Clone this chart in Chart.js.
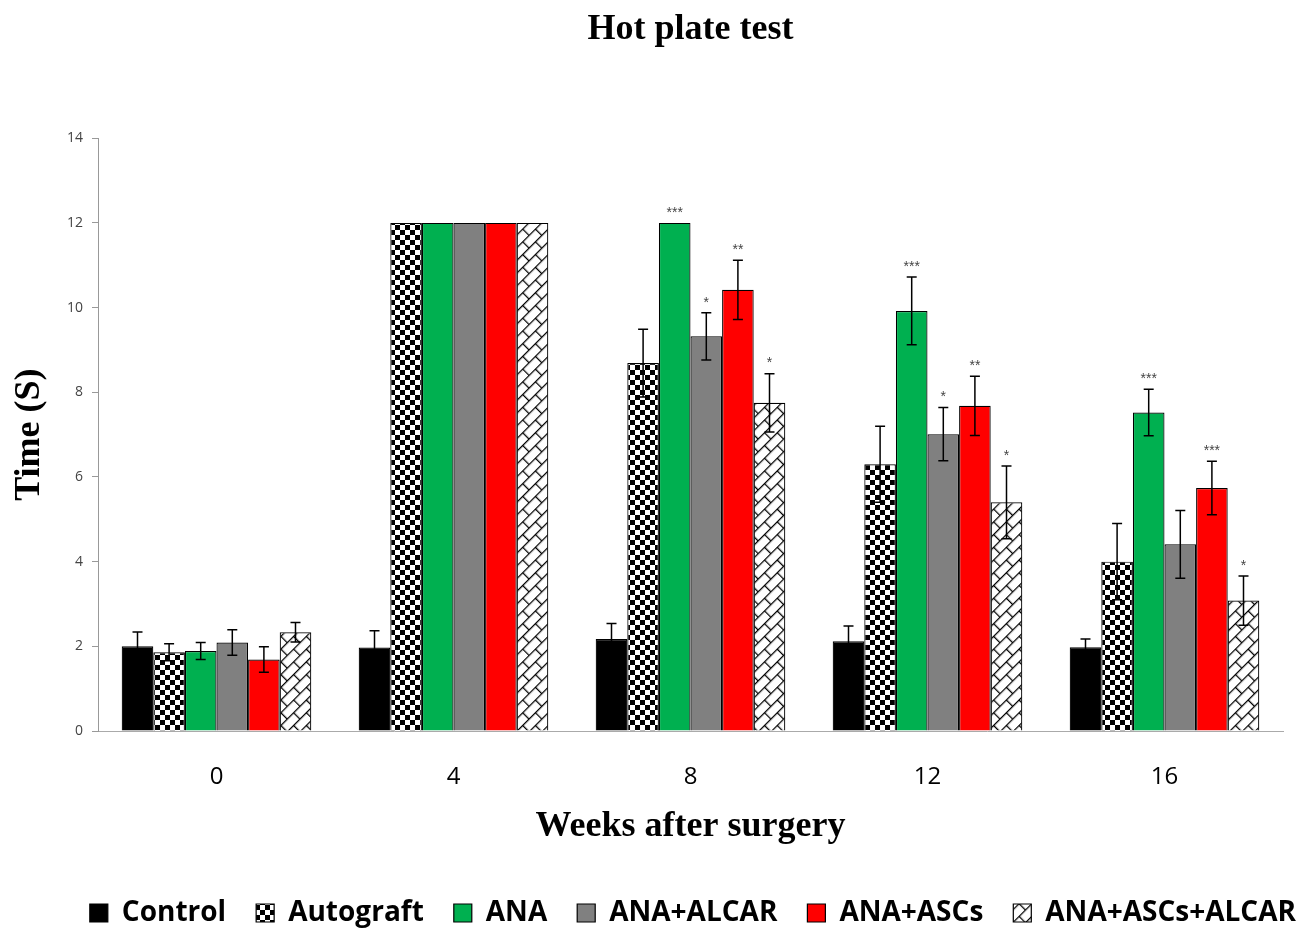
<!DOCTYPE html>
<html>
<head>
<meta charset="utf-8">
<title>Hot plate test</title>
<script src="https://cdn.jsdelivr.net/npm/chart.js@4.4.1/dist/chart.umd.min.js"></script>
<style>
  html, body { margin: 0; padding: 0; background: #fff; overflow: hidden; }
  canvas { display: block; }
</style>
</head>
<body>
<canvas id="myChart" width="1306" height="929"></canvas>
<script>
// weeks after surgery
var weeks = ['0', '4', '8', '12', '16'];

// mean time (s) per group
var control      = [2.0, 1.97, 2.17, 2.12, 1.98];
var autograft    = [1.86, 12, 8.69, 6.30, 4.0];
var ana          = [1.89, 12, 12, 9.92, 7.52];
var anaAlcar     = [2.09, 12, 9.32, 7.01, 4.41];
var anaAscs      = [1.69, 12, 10.42, 7.68, 5.74];
var anaAscsAlcar = [2.33, 12, 7.75, 5.40, 3.08];

// error bars (+/-)
var controlErr      = [0.34, 0.4, 0.37, 0.36, 0.19];
var autograftErr    = [0.2, 0, 0.8, 0.9, 0.9];
var anaErr          = [0.2, 0, 0, 0.8, 0.55];
var anaAlcarErr     = [0.3, 0, 0.56, 0.63, 0.8];
var anaAscsErr      = [0.3, 0, 0.7, 0.7, 0.63];
var anaAscsAlcarErr = [0.23, 0, 0.69, 0.86, 0.58];

// significance marks
var controlSig      = ['', '', '', '', ''];
var autograftSig    = ['', '', '', '', ''];
var anaSig          = ['', '', '***', '***', '***'];
var anaAlcarSig     = ['', '', '*', '*', ''];
var anaAscsSig      = ['', '', '**', '**', '***'];
var anaAscsAlcarSig = ['', '', '*', '*', '*'];

var yTicks = [0, 2, 4, 6, 8, 10, 12, 14];

function checkerPattern() {
  var c = document.createElement('canvas');
  c.width = 10; c.height = 10;
  var g = c.getContext('2d');
  g.fillStyle = '#fff';
  g.fillRect(0, 0, 10, 10);
  g.fillStyle = '#000';
  g.fillRect(0, 0, 5, 5);
  g.fillRect(5, 5, 5, 5);
  return g.createPattern(c, 'repeat');
}

function brickPattern() {
  var s = 18, h = 9;
  var c = document.createElement('canvas');
  c.width = s; c.height = s;
  var g = c.getContext('2d');
  g.fillStyle = '#fff';
  g.fillRect(0, 0, s, s);
  g.strokeStyle = '#000';
  g.lineWidth = 1.3;
  g.beginPath();
  g.moveTo(0, 0.6); g.lineTo(s, 0.6);
  g.moveTo(0, h + 0.6); g.lineTo(s, h + 0.6);
  g.moveTo(0.6, 0); g.lineTo(0.6, h);
  g.moveTo(h + 0.6, h); g.lineTo(h + 0.6, s);
  g.stroke();
  var p = g.createPattern(c, 'repeat');
  p.setTransform(new DOMMatrix().rotateSelf(-45));
  return p;
}

var errs = [controlErr, autograftErr, anaErr, anaAlcarErr, anaAscsErr, anaAscsAlcarErr];
var sigs = [controlSig, autograftSig, anaSig, anaAlcarSig, anaAscsSig, anaAscsAlcarSig];

var errorBars = {
  id: 'errorBars',
  afterDatasetsDraw: function(chart) {
    var ctx = chart.ctx;
    var y = chart.scales.y;
    ctx.save();
    chart.data.datasets.forEach(function(ds, i) {
      var meta = chart.getDatasetMeta(i);
      meta.data.forEach(function(bar, j) {
        var v = ds.data[j];
        var e = errs[i][j];
        var top = y.getPixelForValue(v + e);
        if (e > 0) {
          var bot = y.getPixelForValue(v - e);
          ctx.strokeStyle = '#000';
          ctx.lineWidth = 1.5;
          ctx.beginPath();
          ctx.moveTo(bar.x, top); ctx.lineTo(bar.x, bot);
          ctx.moveTo(bar.x - 5, top); ctx.lineTo(bar.x + 5, top);
          ctx.moveTo(bar.x - 5, bot); ctx.lineTo(bar.x + 5, bot);
          ctx.stroke();
        }
        if (sigs[i][j]) {
          ctx.fillStyle = '#444';
          ctx.font = '14px "Liberation Sans"';
          ctx.textAlign = 'center';
          ctx.textBaseline = 'bottom';
          ctx.fillText(sigs[i][j], bar.x, top - 3);
        }
      });
    });
    ctx.restore();
  }
};

var ctx = document.getElementById('myChart').getContext('2d');
var myChart = new Chart(ctx, {
  type: 'bar',
  data: {
    labels: weeks,
    datasets: [
      { label: 'Control', data: control, backgroundColor: '#000000' },
      { label: 'Autograft', data: autograft, backgroundColor: checkerPattern() },
      { label: 'ANA', data: ana, backgroundColor: '#00b050' },
      { label: 'ANA+ALCAR', data: anaAlcar, backgroundColor: '#808080' },
      { label: 'ANA+ASCs', data: anaAscs, backgroundColor: '#ff0000' },
      { label: 'ANA+ASCs+ALCAR', data: anaAscsAlcar, backgroundColor: brickPattern() }
    ]
  },
  options: {
    responsive: false,
    animation: false,
    datasets: {
      bar: {
        borderColor: '#000',
        borderWidth: 1.2,
        categoryPercentage: 0.8,
        barPercentage: 1.0
      }
    },
    layout: {
      // legend runs past the plot on the right, so let it use the margin
      padding: { left: 0, right: -20, top: 0, bottom: -8 }
    },
    scales: {
      x: {
        grid: { display: false },
        border: { display: true, color: '#aaa', width: 1 },
        ticks: {
          color: '#000',
          padding: 24,
          font: { family: '"Open Sans"', size: 24 }
        },
        title: {
          display: true,
          text: 'Weeks after surgery',
          color: '#000',
          padding: { top: 0, bottom: 21 },
          font: { family: '"Liberation Serif"', size: 36, weight: 'bold' }
        },
        afterFit: function(scale) { scale.height = 138; }
      },
      y: {
        min: 0,
        max: 14,
        afterBuildTicks: function(scale) {
          scale.ticks = yTicks.map(function(v) { return { value: v }; });
        },
        grid: {
          display: true,
          drawOnChartArea: false,
          drawTicks: true,
          tickLength: 6,
          color: '#999'
        },
        border: { display: true, color: '#999', width: 1 },
        ticks: {
          color: '#444',
          padding: 9,
          font: { family: '"Open Sans"', size: 14 }
        },
        title: {
          display: true,
          text: 'Time (S)',
          color: '#000',
          padding: { top: 8, bottom: 0 },
          font: { family: '"Liberation Serif"', size: 36, weight: 'bold' }
        },
        afterFit: function(scale) { scale.width = 98; }
      },
      // empty right margin box
      yr: {
        type: 'linear',
        position: 'right',
        grid: { display: false },
        border: { display: false },
        ticks: { display: false },
        afterFit: function(scale) { scale.width = 43; }
      }
    },
    plugins: {
      title: {
        display: true,
        fullSize: false,
        text: 'Hot plate test',
        color: '#000',
        padding: { top: 8, bottom: 87 },
        font: { family: '"Liberation Serif"', size: 36, weight: 'bold' }
      },
      legend: {
        position: 'bottom',
        align: 'end',
        labels: {
          boxWidth: 18,
          boxHeight: 18,
          padding: 30,
          color: '#000',
          font: { family: '"Open Sans"', size: 28, weight: 'bold' }
        }
      },
      tooltip: { enabled: false }
    }
  },
  plugins: [errorBars]
});
</script>
</body>
</html>
